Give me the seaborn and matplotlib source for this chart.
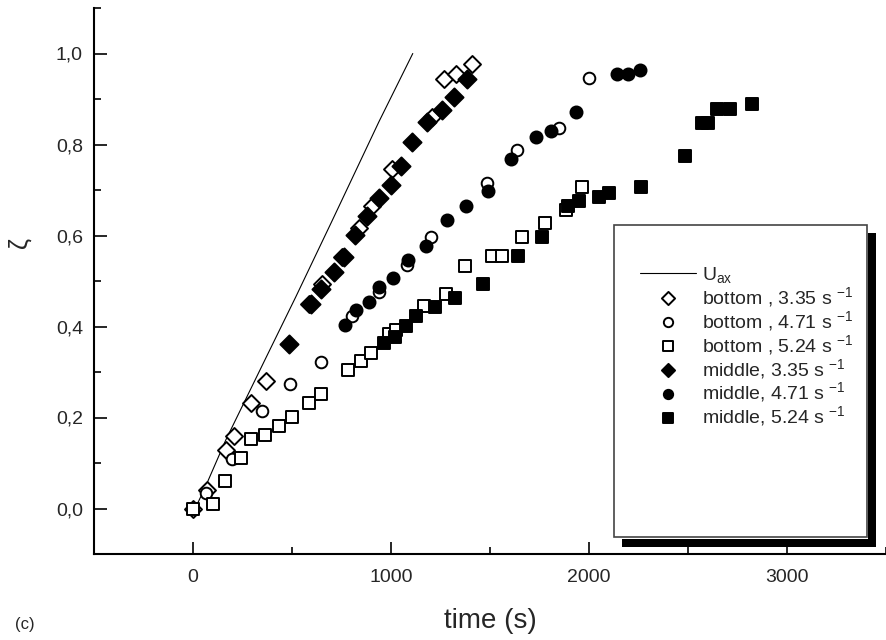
# coding: utf-8
# zeta vs time, bottom / middle probes, three shear rates

import matplotlib
matplotlib.use('Agg')
import matplotlib.pyplot as plt
from matplotlib.patches import Rectangle
from matplotlib.ticker import MultipleLocator
import seaborn as sns

# U_ax line
t_uax = [0, 60, 165, 367, 519, 700, 939, 1110]
z_uax = [-0.01, 0.045, 0.15, 0.33, 0.465, 0.63, 0.85, 1.0]

# bottom, 3.35 s-1 (open diamond)
t_b335 = [0, 72, 168, 207, 291, 370, 586, 653, 754, 838, 906, 1006, 1209, 1268, 1327, 1411]
z_b335 = [0.0, 0.04, 0.129, 0.16, 0.231, 0.28, 0.45, 0.494, 0.553, 0.616, 0.664, 0.746,
          0.86, 0.945, 0.956, 0.977]

# bottom, 4.71 s-1 (open circle)
t_b471 = [64, 195, 350, 490, 648, 805, 939, 1082, 1200, 1486, 1638, 1848, 2000]
z_b471 = [0.033, 0.108, 0.214, 0.273, 0.322, 0.424, 0.476, 0.535, 0.596, 0.715, 0.788,
          0.837, 0.946]

# bottom, 5.24 s-1 (open square)
t_b524 = [0, 103, 162, 244, 295, 362, 434, 498, 586, 645, 784, 848, 900, 990, 1024, 1167,
          1276, 1372, 1511, 1562, 1660, 1778, 1886, 1963]
z_b524 = [0.0, 0.01, 0.06, 0.112, 0.152, 0.162, 0.182, 0.202, 0.232, 0.251, 0.304, 0.324,
          0.341, 0.384, 0.393, 0.445, 0.472, 0.533, 0.556, 0.556, 0.596, 0.627, 0.655, 0.707]

# middle, 3.35 s-1 (filled diamond)
t_m335 = [485, 594, 645, 712, 763, 818, 880, 939, 998, 1049, 1108, 1183, 1259, 1318, 1385]
z_m335 = [0.361, 0.45, 0.483, 0.52, 0.553, 0.601, 0.642, 0.683, 0.712, 0.753, 0.805, 0.849,
          0.875, 0.904, 0.945]

# middle, 4.71 s-1 (filled circle)
t_m471 = [766, 822, 889, 939, 1012, 1087, 1175, 1285, 1377, 1491, 1604, 1731, 1806, 1933,
          2139, 2198, 2257]
z_m471 = [0.404, 0.436, 0.453, 0.487, 0.506, 0.546, 0.576, 0.635, 0.664, 0.698, 0.768, 0.817,
          0.83, 0.871, 0.955, 0.955, 0.964]

# middle, 5.24 s-1 (filled square)
t_m524 = [965, 1020, 1074, 1125, 1222, 1321, 1465, 1643, 1761, 1896, 1949, 2051, 2101, 2261,
          2483, 2572, 2601, 2645, 2712, 2825]
z_m524 = [0.363, 0.376, 0.402, 0.424, 0.443, 0.463, 0.493, 0.555, 0.596, 0.664, 0.676, 0.685,
          0.694, 0.707, 0.775, 0.848, 0.848, 0.877, 0.877, 0.888]

labels = ['bottom , 3.35 s $^{-1}$', 'bottom , 4.71 s $^{-1}$', 'bottom , 5.24 s $^{-1}$',
          'middle, 3.35 s $^{-1}$', 'middle, 4.71 s $^{-1}$', 'middle, 5.24 s $^{-1}$']
xticks = [0, 1000, 2000, 3000]
yticks = [0.0, 0.2, 0.4, 0.6, 0.8, 1.0]
ytick_labels = ['0,0', '0,2', '0,4', '0,6', '0,8', '1,0']

sns.set_style('white')
plt.rcParams['font.family'] = ['Liberation Sans', 'DejaVu Sans']
plt.rcParams['mathtext.fontset'] = 'custom'
plt.rcParams['mathtext.rm'] = 'Liberation Sans'
plt.rcParams['mathtext.it'] = 'Liberation Sans'

W, H = 886, 640
fig = plt.figure(figsize=(W / 100, H / 100), dpi=100)
ax_l, ax_r, ax_t, ax_b = 94, 886, 8, 554
ax = fig.add_axes([ax_l / W, 1 - ax_b / H, (ax_r - ax_l) / W, (ax_b - ax_t) / H])

def px2ax(x, y):
    return (x - ax_l) / (ax_r - ax_l), (ax_b - y) / (ax_b - ax_t)

sns.lineplot(x=t_uax, y=z_uax, color='black', lw=0.8, ax=ax, label='U$_{\\mathrm{ax}}$',
             sort=False)

series = [(t_b335, z_b335, 'D', 75, 'white'),
          (t_b471, z_b471, 'o', 70, 'white'),
          (t_b524, z_b524, 's', 75, 'white'),
          (t_m335, z_m335, 'D', 85, 'black'),
          (t_m471, z_m471, 'o', 75, 'black'),
          (t_m524, z_m524, 's', 85, 'black')]
for (t, z, m, s, fc), lab in zip(series, labels):
    sns.scatterplot(x=t, y=z, marker=m, s=s, facecolor=fc, edgecolor='black',
                    linewidth=1.4, ax=ax, label=lab, zorder=3)

ax.set_xlim(-500, 3500)
ax.set_ylim(-0.1, 1.1)
ax.set_xticks(xticks)
ax.set_xticklabels([str(v) for v in xticks])
ax.set_yticks(yticks)
ax.set_yticklabels(ytick_labels)
ax.xaxis.set_minor_locator(MultipleLocator(500))
ax.yaxis.set_minor_locator(MultipleLocator(0.1))
ax.tick_params(which='major', direction='in', length=9, width=1.4, labelsize=14,
               left=True, bottom=True, pad=8)
ax.tick_params(axis='x', which='major', pad=11)
ax.tick_params(which='minor', direction='in', length=5, width=1.4, left=True, bottom=True)
for sp in ['top', 'right']:
    ax.spines[sp].set_visible(False)
for sp in ['left', 'bottom']:
    ax.spines[sp].set_linewidth(1.5)
    ax.spines[sp].set_color('black')

ax.set_xlabel('time (s)', fontsize=20, labelpad=16)
ax.set_ylabel('')
fig.text(20 / W, 1 - 243 / H, 'ζ', fontsize=18, rotation=90, ha='center', va='center')
fig.text(15 / W, 1 - 625 / H, '(c)', fontsize=12, va='center', ha='left')

# legend box with black drop shadow
x0, y0 = px2ax(614, 537)
x1, y1 = px2ax(867, 225)
ax.add_patch(Rectangle((x0, y0), x1 - x0, y1 - y0, transform=ax.transAxes,
                       facecolor='white', edgecolor='#444444', lw=1.2, zorder=5,
                       clip_on=False))
sx0, sy0 = px2ax(868, 547)
sx1, sy1 = px2ax(876, 233)
ax.add_patch(Rectangle((sx0, sy0), sx1 - sx0, sy1 - sy0, transform=ax.transAxes,
                       facecolor='black', lw=0, zorder=5, clip_on=False))
bx0, by0 = px2ax(622, 547)
bx1, by1 = px2ax(876, 539)
ax.add_patch(Rectangle((bx0, by0), bx1 - bx0, by1 - by0, transform=ax.transAxes,
                       facecolor='black', lw=0, zorder=5, clip_on=False))

lx, ly = px2ax(640, 265)
leg = ax.legend(loc='upper left', bbox_to_anchor=(lx, ly), frameon=False, fontsize=14,
                handlelength=2.9, handletextpad=0.3, labelspacing=0.0,
                borderpad=0, borderaxespad=0)
leg.set_zorder(6)
for h in leg.legend_handles[1:]:
    h.set_sizes([45])

fig.savefig('out.png', dpi=100)
